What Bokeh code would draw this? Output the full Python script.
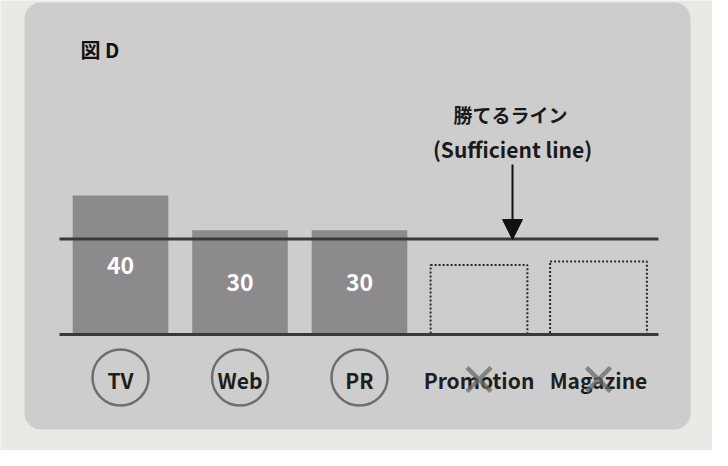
from bokeh.plotting import figure
from bokeh.models import Range1d, BoxAnnotation, Arrow, NormalHead, Label
from bokeh.core.properties import value
from bokeh.embed import file_html
from bokeh.resources import INLINE

# ---- data ----
categories = ["TV", "Web", "PR", "Promotion", "Magazine"]
budget = [40, 30, 30]                 # adopted media (filled bars)
adopted = ["TV", "Web", "PR"]
rejected = ["Promotion", "Magazine"]
placeholder = [20, 21]                # empty dashed boxes
sufficient_line = 27.5
title_text = "図 D"
line_label_jp = "勝てるライン"
line_label_en = "(Sufficient line)"

# ---- layout constants ----
W, H = 712, 450
PX, X0 = 119.5, 120.0     # px per category, px position of first category
PY, Y0 = 3.475, 334.0     # px per value unit, px (from top) of value 0

def dx(fx):
    return (fx - X0) / PX

def dy(fy):
    return (Y0 - fy) / PY

FONT = value("Noto Sans CJK JP")
PAGE = "#eae9e5"
CARD = "#cecdcd"
BAR = "#8d8a8d"
DARK = "#3b383a"

p = figure(width=W, height=H, output_backend="svg", toolbar_location=None,
           x_range=Range1d(dx(0), dx(W)), y_range=Range1d(dy(H), dy(0)),
           min_border=0)
p.axis.visible = False
p.grid.visible = False
p.outline_line_color = None
p.background_fill_color = PAGE
p.border_fill_color = PAGE

# card
p.add_layout(BoxAnnotation(left=dx(24), right=dx(690), top=dy(2), bottom=dy(429),
                           fill_color=CARD, fill_alpha=1, line_color=None,
                           border_radius=16, level="underlay"))

idx = {c: i for i, c in enumerate(categories)}
xa = [idx[c] for c in adopted]
xr = [idx[c] for c in rejected]

# filled bars
p.vbar(x=xa, top=budget, bottom=0, width=0.80, fill_color=BAR, line_color=None)
# dashed empty boxes
p.vbar(x=xr, top=placeholder, bottom=0, width=0.81, fill_alpha=0,
       line_color="#2a2a2a", line_width=2, line_dash="2 2")

# baseline & sufficient line
p.segment(x0=[dx(59), dx(59)], x1=[dx(658), dx(658)], y0=[0, sufficient_line],
          y1=[0, sufficient_line], line_color=DARK, line_width=3)

# value labels
p.text(x=xa, y=[v / 2 for v in budget], text=[str(v) for v in budget],
       text_color="white", text_font=FONT, text_font_style="bold",
       text_font_size="23px", text_align="center", text_baseline="middle")

# category circles and labels
ylab = dy(379)
p.scatter(x=xa, y=[dy(377)] * len(xa), marker="circle", size=56,
          fill_alpha=0, line_color="#6f6e6e", line_width=2.5)
p.text(x=list(range(len(categories))), y=[ylab] * len(categories), text=categories,
       text_color="#1e1e1e", text_font=FONT, text_font_style="bold",
       text_font_size="21px", text_align="center", text_baseline="middle")
# crossed-out
p.scatter(x=xr, y=[ylab] * len(xr), marker="x", size=34, line_color="#6a6a6a",
          line_width=4.5, line_alpha=0.75)

# arrow and its label
ax = dx(512)
p.add_layout(Arrow(end=NormalHead(size=20, fill_color="#111111", line_color="#111111"),
                   x_start=ax, y_start=dy(164), x_end=ax, y_end=dy(239),
                   line_color="#111111", line_width=2))
p.add_layout(Label(x=dx(510), y=dy(114), text=line_label_jp, text_font="Noto Sans CJK JP",
                   text_font_style="bold", text_font_size="19px", text_color="#1a1a1a",
                   text_align="center", text_baseline="middle"))
p.add_layout(Label(x=dx(512), y=dy(148), text=line_label_en, text_font="Noto Sans CJK JP",
                   text_font_style="bold", text_font_size="21px", text_color="#1a1a1a",
                   text_align="center", text_baseline="middle"))
p.add_layout(Label(x=dx(80), y=dy(49), text=title_text, text_font="Noto Sans CJK JP",
                   text_font_style="bold", text_font_size="20px", text_color="#111111",
                   text_align="left", text_baseline="middle"))

open("out.html", "w").write(file_html(p, INLINE))
